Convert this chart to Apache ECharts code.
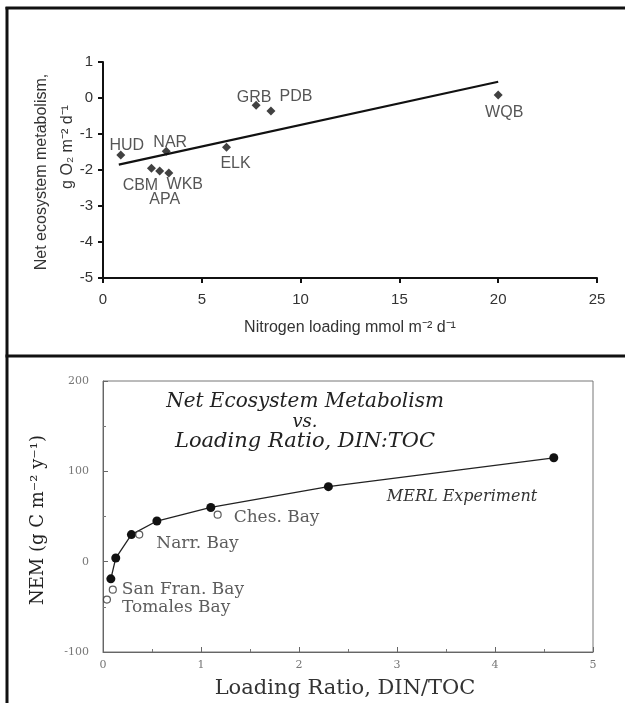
<!DOCTYPE html>
<html>
<head>
<meta charset="utf-8">
<script src="https://cdn.jsdelivr.net/npm/echarts@6/dist/echarts.min.js"></script>
<style>
html,body{margin:0;padding:0;background:#fff;}
#chart{width:625px;height:703px;}
</style>
</head>
<body>
<div id="chart"></div>
<script>
// ---- Top panel data ----
const siteNames = ['HUD', 'NAR', 'CBM', 'APA', 'WKB', 'ELK', 'GRB', 'PDB', 'WQB'];
const nLoading = [0.9, 3.2, 2.45, 2.87, 3.33, 6.25, 7.75, 8.5, 20.0];
const nemO2 = [-1.58, -1.48, -1.95, -2.03, -2.08, -1.37, -0.2, -0.36, 0.08];
const fitX = [0.8, 20];
const fitY = [-1.85, 0.45];
const topXTicks = [0, 5, 10, 15, 20, 25];
const topYTicks = [-5, -4, -3, -2, -1, 0, 1];

// ---- Bottom panel data ----
const merlRatio = [0.08, 0.13, 0.29, 0.55, 1.1, 2.3, 4.6];
const merlNem = [-19, 4, 30, 45, 60, 83, 115];
const bayNames = ['Ches. Bay', 'Narr. Bay', 'San Fran. Bay', 'Tomales Bay'];
const bayRatio = [1.17, 0.37, 0.1, 0.04];
const bayNem = [52, 30, -31, -42];

// label placement (styling only)
const siteLabelOffsets = [[6, -9], [4, -9], [-11, 17], [5, 29], [16, 12], [9, 16], [-2, -8], [25, -14], [6, 17]];
const bayLabelOffsets = [[16, 3], [17, 9], [9, 0], [15, 8]];

const sans = 'Liberation Sans, Arial, sans-serif';
const serif = 'DejaVu Serif, Liberation Serif, serif';

const chart = echarts.init(document.getElementById('chart'), null, {renderer: 'canvas'});

const option = {
  animation: false,
  backgroundColor: '#fff',
  grid: [
    {left: 103, right: 28, top: 62, bottom: 425, containLabel: false},
    {left: 103, right: 32, top: 381, bottom: 51, show: true, borderColor: '#777', borderWidth: 1, backgroundColor: 'transparent'}
  ],
  xAxis: [
    {
      gridIndex: 0, type: 'value', min: 0, max: 25, interval: 5,
      axisLine: {show: true, onZero: false, lineStyle: {color: '#111', width: 2}},
      axisTick: {show: true, inside: false, length: 5, lineStyle: {color: '#111', width: 2}},
      axisLabel: {color: '#333', fontFamily: sans, fontSize: 15, margin: 14,
        formatter: v => topXTicks.includes(v) ? String(v) : ''},
      splitLine: {show: false}
    },
    {
      gridIndex: 1, type: 'value', min: 0, max: 5, interval: 1,
      axisLine: {show: true, onZero: false, lineStyle: {color: '#666', width: 1}},
      axisTick: {show: true, inside: true, length: 5, lineStyle: {color: '#666'}},
      minorTick: {show: true, splitNumber: 2, length: 3, lineStyle: {color: '#777'}},
      axisLabel: {color: '#777', fontFamily: serif, fontSize: 11, margin: 8},
      splitLine: {show: false}
    }
  ],
  yAxis: [
    {
      gridIndex: 0, type: 'value', min: -5, max: 1, interval: 1,
      axisLine: {show: true, onZero: false, lineStyle: {color: '#111', width: 2}},
      axisTick: {show: true, inside: false, length: 5, lineStyle: {color: '#111', width: 2}},
      axisLabel: {color: '#333', fontFamily: sans, fontSize: 15, margin: 10,
        formatter: v => topYTicks.includes(v) ? String(v) : ''},
      splitLine: {show: false}
    },
    {
      gridIndex: 1, type: 'value', min: -100, max: 200, interval: 100,
      axisLine: {show: true, onZero: false, lineStyle: {color: '#666', width: 1}},
      axisTick: {show: true, inside: true, length: 5, lineStyle: {color: '#666'}},
      minorTick: {show: true, splitNumber: 2, length: 3, lineStyle: {color: '#777'}},
      axisLabel: {color: '#777', fontFamily: serif, fontSize: 11, margin: 14},
      splitLine: {show: false}
    }
  ],
  series: [
    {
      type: 'line', xAxisIndex: 0, yAxisIndex: 0,
      data: fitX.map((x, i) => [x, fitY[i]]),
      showSymbol: false, symbol: 'none',
      lineStyle: {color: '#111', width: 2.2}, z: 2, silent: true
    },
    {
      type: 'scatter', xAxisIndex: 0, yAxisIndex: 0,
      symbol: 'diamond', symbolSize: 9,
      itemStyle: {color: '#111'}, z: 3,
      data: nLoading.map((x, i) => ({
        value: [x, nemO2[i]],
        label: {
          show: true, formatter: siteNames[i], position: 'inside',
          align: 'center', verticalAlign: 'middle',
          offset: siteLabelOffsets[i],
          color: '#2a2a2a', fontFamily: sans, fontSize: 16
        }
      }))
    },
    {
      type: 'line', xAxisIndex: 1, yAxisIndex: 1,
      data: merlRatio.map((x, i) => [x, merlNem[i]]),
      symbol: 'circle', symbolSize: 9, showSymbol: true,
      lineStyle: {color: '#222', width: 1.3},
      itemStyle: {color: '#111'}, z: 3
    },
    {
      type: 'scatter', xAxisIndex: 1, yAxisIndex: 1,
      symbol: 'circle', symbolSize: 7,
      itemStyle: {color: '#fff', borderColor: '#333', borderWidth: 1.2}, z: 4,
      data: bayRatio.map((x, i) => ({
        value: [x, bayNem[i]],
        label: {
          show: true, formatter: bayNames[i], position: 'inside',
          align: 'left', verticalAlign: 'middle',
          offset: bayLabelOffsets[i],
          color: '#333', fontFamily: serif, fontSize: 17
        }
      }))
    }
  ],
  graphic: [
    // panel frame
    {type: 'line', shape: {x1: 7, y1: 7, x2: 7, y2: 703}, style: {stroke: '#111', lineWidth: 3}},
    {type: 'line', shape: {x1: 5.5, y1: 8, x2: 625, y2: 8}, style: {stroke: '#111', lineWidth: 3}},
    {type: 'line', shape: {x1: 5.5, y1: 356, x2: 625, y2: 356}, style: {stroke: '#111', lineWidth: 3}},
    // top axis titles
    {type: 'text', x: 42, y: 172, rotation: Math.PI / 2,
      style: {text: 'Net ecosystem metabolism,', font: '16px ' + sans, fill: '#333', align: 'center', verticalAlign: 'middle'}},
    {type: 'text', x: 68, y: 147, rotation: Math.PI / 2,
      style: {text: 'g O\u2082 m\u207B\u00B2 d\u207B\u00B9', font: '16px ' + sans, fill: '#333', align: 'center', verticalAlign: 'middle'}},
    {type: 'text', x: 350, y: 328,
      style: {text: 'Nitrogen loading mmol m\u207B\u00B2 d\u207B\u00B9', font: '16px ' + sans, fill: '#333', align: 'center', verticalAlign: 'middle'}},
    // bottom panel texts
    {type: 'text', x: 305, y: 402,
      style: {text: 'Net Ecosystem Metabolism', font: 'italic 20px ' + serif, fill: '#222', align: 'center', verticalAlign: 'middle'}},
    {type: 'text', x: 305, y: 422,
      style: {text: 'vs.', font: 'italic 18px ' + serif, fill: '#222', align: 'center', verticalAlign: 'middle'}},
    {type: 'text', x: 305, y: 442,
      style: {text: 'Loading Ratio, DIN:TOC', font: 'italic 21px ' + serif, fill: '#222', align: 'center', verticalAlign: 'middle'}},
    {type: 'text', x: 462, y: 497,
      style: {text: 'MERL Experiment', font: 'italic 16px ' + serif, fill: '#333', align: 'center', verticalAlign: 'middle'}},
    {type: 'text', x: 38, y: 520, rotation: Math.PI / 2,
      style: {text: 'NEM (g C m\u207B\u00B2 y\u207B\u00B9)', font: '18px ' + serif, fill: '#222', align: 'center', verticalAlign: 'middle'}},
    {type: 'text', x: 345, y: 689,
      style: {text: 'Loading Ratio, DIN/TOC', font: '21px ' + serif, fill: '#333', align: 'center', verticalAlign: 'middle'}}
  ]
};
chart.setOption(option);
</script>
</body>
</html>
